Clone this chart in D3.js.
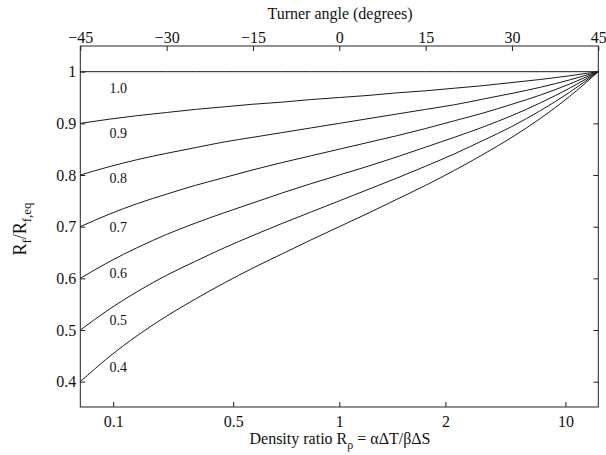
<!DOCTYPE html>
<html><head><meta charset="utf-8">
<script src="https://cdn.jsdelivr.net/npm/d3@7"></script>
<style>
html,body{margin:0;padding:0;background:#fff;}
svg{display:block;font-family:"Liberation Serif","Times New Roman",serif;}
</style></head>
<body>
<svg id="chart" width="606" height="455"></svg>
<script>
// ---- data ----
const turnerTicks = [-45, -30, -15, 0, 15, 30, 45];
const rhoTicks = [0.1, 0.5, 1, 2, 10];
const yTicks = [0.4, 0.5, 0.6, 0.7, 0.8, 0.9, 1];
const turnerSamples = [-45,-40,-35,-30,-25,-20,-15,-10,-5,0,5,10,15,20,25,30,35,40,45];
const curve10 = [1,1,1,1,1,1,1,1,1,1,1,1,1,1,1,1,1,1,1];
const curve09 = [0.9,0.908,0.915,0.921,0.927,0.932,0.937,0.941,0.946,0.95,0.954,0.959,0.963,0.968,0.973,0.979,0.985,0.992,1];
const curve08 = [0.8,0.816,0.830,0.842,0.853,0.864,0.873,0.882,0.891,0.9,0.909,0.918,0.927,0.936,0.947,0.958,0.970,0.984,1];
const curve07 = [0.7,0.724,0.745,0.763,0.780,0.795,0.810,0.824,0.837,0.85,0.863,0.876,0.890,0.905,0.920,0.937,0.955,0.976,1];
const curve06 = [0.6,0.632,0.660,0.685,0.707,0.727,0.746,0.765,0.783,0.8,0.817,0.835,0.854,0.873,0.893,0.915,0.940,0.968,1];
const curve05 = [0.5,0.540,0.575,0.606,0.633,0.659,0.683,0.706,0.728,0.75,0.772,0.794,0.817,0.841,0.867,0.894,0.925,0.960,1];
const curve04 = [0.4,0.448,0.490,0.527,0.560,0.591,0.620,0.647,0.674,0.7,0.726,0.753,0.780,0.809,0.840,0.873,0.910,0.952,1];
const curveLabels = ["1.0","0.9","0.8","0.7","0.6","0.5","0.4"];
const labelValues = [0.968,0.881,0.794,0.699,0.610,0.519,0.428];
const labelTurner = -38.4;

// ---- layout ----
const svg = d3.select("#chart");
const L = 80.3, R = 598.3, T = 46, B = 407;
const x = d3.scaleLinear().domain([-45, 45]).range([L, R]);
const y = d3.scaleLinear().domain([0.351, 1.0497]).range([B, T]);
const rhoToTurner = r => Math.atan(r) * 180 / Math.PI - 45;
const fmtMinus = d => d < 0 ? "\u2212" + Math.abs(d) : String(d);

// curves
const series = [curve10, curve09, curve08, curve07, curve06, curve05, curve04];
const line = d3.line().x((d, i) => x(turnerSamples[i])).y(d => y(d)).curve(d3.curveMonotoneX);
svg.append("g").selectAll("path").data(series).join("path")
  .attr("d", d => line(d))
  .attr("fill", "none").attr("stroke", "#1a1a1a").attr("stroke-width", 1);

// curve labels
svg.append("g").selectAll("text").data(curveLabels).join("text")
  .attr("x", x(labelTurner)).attr("y", (d, i) => y(labelValues[i]))
  .attr("dy", "0.35em").attr("text-anchor", "middle")
  .attr("font-size", 14).attr("fill", "#111").text(d => d);

// axes
function styleAxis(g){
  g.select(".domain").remove();
  g.selectAll(".tick line").attr("stroke", "#222");
  g.selectAll(".tick text").attr("font-family", "Liberation Serif, serif").attr("font-size", 16).attr("fill", "#111");
}
svg.append("g").attr("transform", `translate(0,${T})`)
  .call(d3.axisTop(x).tickValues(turnerTicks).tickSizeInner(-5).tickSizeOuter(0).tickPadding(3.5).tickFormat(fmtMinus))
  .call(styleAxis);
svg.append("g").attr("transform", `translate(0,${B})`)
  .call(d3.axisBottom(x).tickValues(rhoTicks.map(rhoToTurner)).tickSizeInner(-5).tickSizeOuter(0).tickPadding(9)
    .tickFormat((d, i) => String(rhoTicks[i])))
  .call(styleAxis);
svg.append("g").attr("transform", `translate(${L},0)`)
  .call(d3.axisLeft(y).tickValues(yTicks).tickSizeInner(-5).tickSizeOuter(0).tickPadding(4).tickFormat(d => String(d)))
  .call(styleAxis);
svg.append("g").attr("transform", `translate(${R},0)`)
  .call(d3.axisRight(y).tickValues(yTicks).tickSizeInner(-5).tickSizeOuter(0).tickFormat(""))
  .call(styleAxis);

// frame
svg.append("rect").attr("x", L).attr("y", T).attr("width", R - L).attr("height", B - T)
  .attr("fill", "none").attr("stroke", "#222").attr("stroke-width", 1);

// titles
svg.append("text").attr("x", 340).attr("y", 18.5).attr("text-anchor", "middle")
  .attr("font-size", 16).attr("fill", "#111").text("Turner angle (degrees)");

const xt = svg.append("text").attr("x", 340).attr("y", 444).attr("text-anchor", "middle")
  .attr("font-size", 16).attr("fill", "#111");
xt.append("tspan").text("Density ratio R");
xt.append("tspan").attr("font-size", 12).attr("dy", 5).text("\u03c1");
xt.append("tspan").attr("dy", -5).text(" = \u03b1\u0394T/\u03b2\u0394S");

const yt = svg.append("text").attr("transform", "translate(26,229) rotate(-90)")
  .attr("text-anchor", "middle").attr("font-size", 18).attr("fill", "#111");
yt.append("tspan").text("R");
yt.append("tspan").attr("font-size", 13).attr("dy", 5).text("f");
yt.append("tspan").attr("dy", -5).text("/R");
yt.append("tspan").attr("font-size", 13).attr("dy", 5).text("f,eq");
</script>
</body></html>
